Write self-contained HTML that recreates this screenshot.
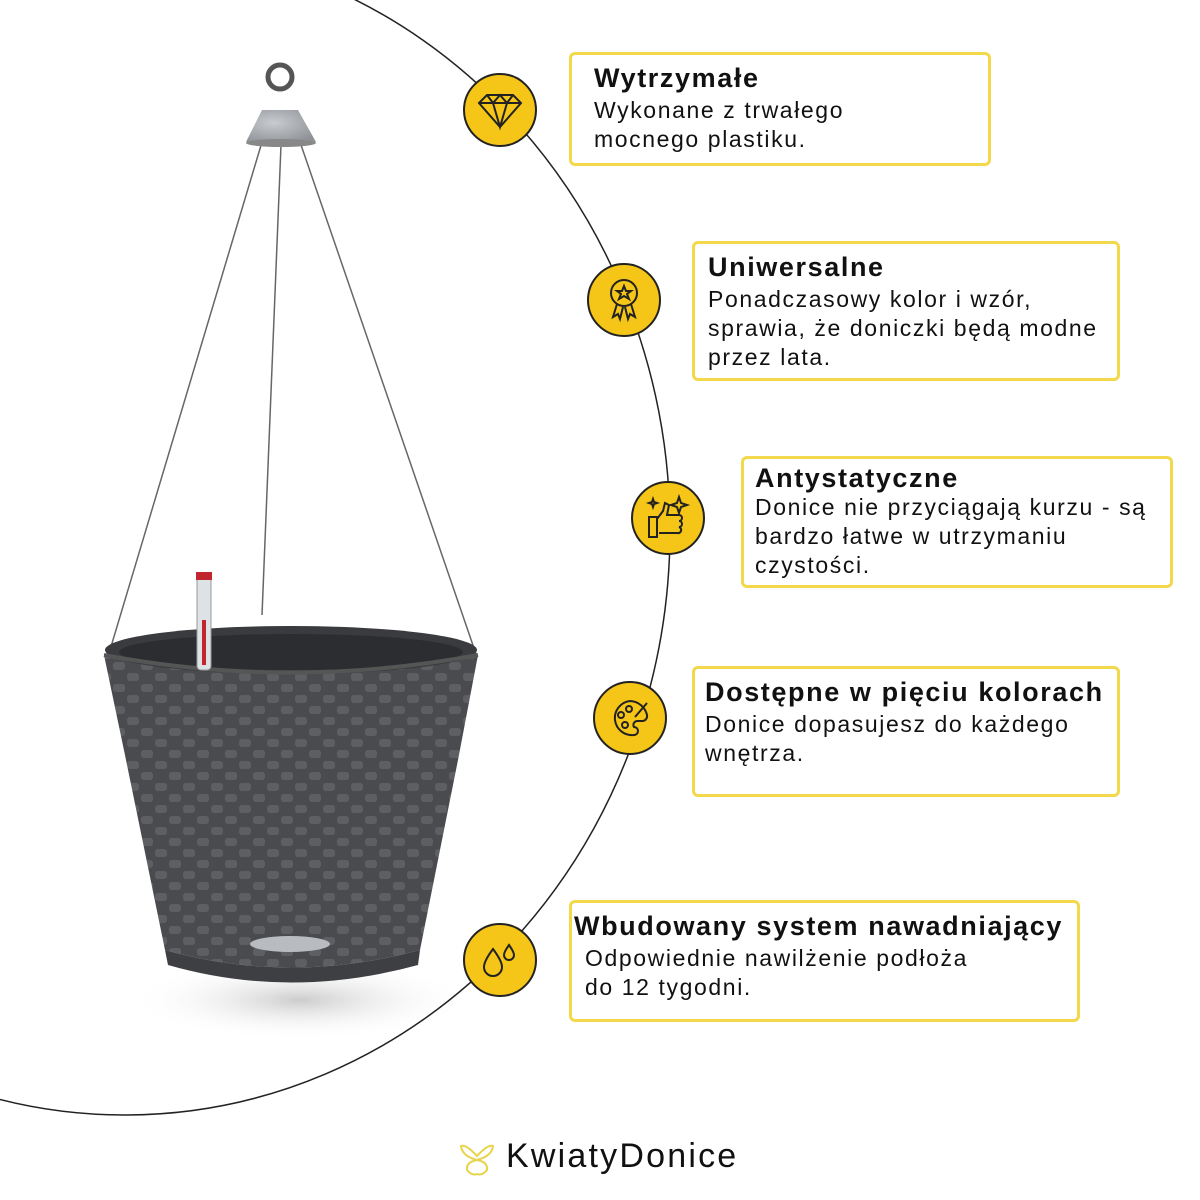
<!DOCTYPE html>
<html><head><meta charset="utf-8"><style>
body{margin:0;width:1200px;height:1200px;background:#fff;position:relative;overflow:hidden;font-family:"Liberation Sans",sans-serif;}
.box{position:absolute;border:3px solid #f2d84a;border-radius:6px;background:#fff;box-sizing:border-box;padding:8px 0 0 22px;color:#111;white-space:nowrap;}
.box b{display:block;font-size:27px;line-height:30px;letter-spacing:1.6px;}
.box p{margin:3px 0 0;font-size:23px;line-height:29px;letter-spacing:1.6px;}
.ic{position:absolute;width:74px;height:74px;border-radius:50%;background:#f5c518;border:2px solid #222;box-sizing:border-box;}
</style></head><body>
<svg width="1200" height="1200" style="position:absolute;left:0;top:0">
<defs>
<pattern id="w" width="28" height="22" patternUnits="userSpaceOnUse">
<rect width="28" height="22" fill="#4a4b4e"/>
<rect x="1" y="2" width="12" height="8" rx="3" fill="#5e5f62"/>
<rect x="15" y="13" width="12" height="8" rx="3" fill="#5e5f62"/>
</pattern>
<radialGradient id="g" cx="0.4" cy="0.4" r="0.7"><stop offset="0" stop-color="#c8ccd0"/><stop offset="1" stop-color="#8e9297"/></radialGradient>
<radialGradient id="sh" cx="0.5" cy="0.5" r="0.5"><stop offset="0" stop-color="#ccc"/><stop offset="1" stop-color="#fff" stop-opacity="0"/></radialGradient>
</defs>
<ellipse cx="300" cy="1000" rx="170" ry="40" fill="url(#sh)"/>
<ellipse cx="125" cy="530" rx="545" ry="585" fill="none" stroke="#222" stroke-width="1.5"/>
<g stroke="#666" stroke-width="1.5" fill="none">
<line x1="262" y1="142" x2="110" y2="650"/>
<line x1="300" y1="142" x2="476" y2="654"/>
<line x1="281" y1="145" x2="262" y2="615"/>
</g>
<circle cx="280" cy="77" r="12" fill="none" stroke="#555" stroke-width="5"/>
<path d="M262 110 L298 110 L316 142 L246 142 Z" fill="url(#g)"/>
<ellipse cx="281" cy="143" rx="35" ry="4" fill="#888"/>
<path d="M104 655 Q290 610 478 655 L458 760 L420 950 Q290 985 165 950 L126 760 Z" fill="url(#w)"/>
<ellipse cx="291" cy="650" rx="186" ry="24" fill="#3a3b3e"/>
<ellipse cx="291" cy="652" rx="172" ry="18" fill="#2c2d30"/>
<path d="M104 655 Q290 690 478 655" stroke="#555" stroke-width="4" fill="none"/>
<path d="M165 950 Q290 985 420 950 L418 965 Q290 1000 168 965 Z" fill="#3e3f42"/>
<ellipse cx="290" cy="944" rx="40" ry="8" fill="#b8bcc0"/>
<rect x="197" y="575" width="14" height="95" rx="4" fill="#dde2e6" stroke="#999"/>
<rect x="202" y="620" width="4" height="45" fill="#c0262e"/>
<rect x="196" y="572" width="16" height="8" fill="#c0262e"/>
</svg>

<div class="ic" style="left:463px;top:73px"><svg width="70" height="70"><g fill="none" stroke="#222" stroke-width="2"><path d="M14 28 L22 20 L48 20 L56 28 L35 52 Z M14 28 L56 28 M22 20 L28 28 L35 20 L42 28 L48 20 M28 28 L35 52 L42 28"/></g></svg></div>
<div class="ic" style="left:587px;top:263px"><svg width="70" height="70"><g fill="none" stroke="#222" stroke-width="2"><circle cx="35" cy="28" r="13"/><path d="M35 21 l2 5 5 0 -4 3 2 5 -5 -3 -5 3 2 -5 -4 -3 5 0z M28 39 L24 52 L29 49 L31 54 L34 42 M42 39 L46 52 L41 49 L39 54 L36 42"/></g></svg></div>
<div class="ic" style="left:631px;top:481px"><svg width="70" height="70"><g fill="none" stroke="#222" stroke-width="2"><path d="M16 34 h8 v20 h-8z M24 36 l6 -8 l2 -8 l4 2 l-2 10 h12 a3 3 0 0 1 0 6 a3 3 0 0 1 0 6 a3 3 0 0 1 -2 6 h-18"/><path d="M46 14 l2 6 6 2 -6 2 -2 6 -2 -6 -6 -2 6 -2z M20 16 l1 3 3 1 -3 1 -1 3 -1 -3 -3 -1 3 -1z"/></g></svg></div>
<div class="ic" style="left:593px;top:681px"><svg width="70" height="70"><g fill="none" stroke="#222" stroke-width="2"><path d="M35 18 a17 17 0 1 0 4 34 a4 4 0 0 0 0 -8 a4 4 0 0 1 4 -6 h5 a5 5 0 0 0 4 -6 a18 18 0 0 0 -17 -14z"/><circle cx="26" cy="32" r="3"/><circle cx="30" cy="42" r="3"/><circle cx="34" cy="26" r="3"/><path d="M40 34 L52 20"/></g></svg></div>
<div class="ic" style="left:463px;top:923px"><svg width="70" height="70"><g fill="none" stroke="#222" stroke-width="2"><path d="M28 24 q-9 12 -9 18 a9 9 0 0 0 18 0 q0 -6 -9 -18z M44 20 q-5 7 -5 10 a5 5 0 0 0 10 0 q0 -3 -5 -10z"/></g></svg></div>

<div class="box" style="left:569px;top:52px;width:422px;height:114px"><b>Wytrzymałe</b><p>Wykonane z trwałego<br>mocnego plastiku.</p></div>
<div class="box" style="left:692px;top:241px;width:428px;height:140px;padding-left:13px"><b>Uniwersalne</b><p>Ponadczasowy kolor i wzór,<br>sprawia, że doniczki będą modne<br>przez lata.</p></div>
<div class="box" style="left:741px;top:456px;width:432px;height:132px;padding-left:11px;padding-top:4px"><b>Antystatyczne</b><p style="margin-top:0">Donice nie przyciągają kurzu - są<br>bardzo łatwe w utrzymaniu<br>czystości.</p></div>
<div class="box" style="left:692px;top:666px;width:428px;height:131px;padding-left:10px"><b>Dostępne w pięciu kolorach</b><p>Donice dopasujesz do każdego<br>wnętrza.</p></div>
<div class="box" style="left:569px;top:900px;width:511px;height:122px;padding-left:2px"><b>Wbudowany system nawadniający</b><p style="padding-left:11px">Odpowiednie nawilżenie podłoża<br>do 12 tygodni.</p></div>

<div style="position:absolute;left:458px;top:1140px;width:38px;height:38px"><svg width="38" height="38"><g fill="none" stroke="#e8d44a" stroke-width="2"><path d="M19 16 Q8 4 3 6 Q4 16 19 20 Q34 16 35 6 Q30 4 19 16z M19 20 Q8 22 9 30 Q14 36 19 34 Q24 36 29 30 Q30 22 19 20z"/></g></svg></div>
<div style="position:absolute;left:506px;top:1137px;font-size:34px;color:#111;letter-spacing:2.2px">KwiatyDonice</div>
</body></html>
